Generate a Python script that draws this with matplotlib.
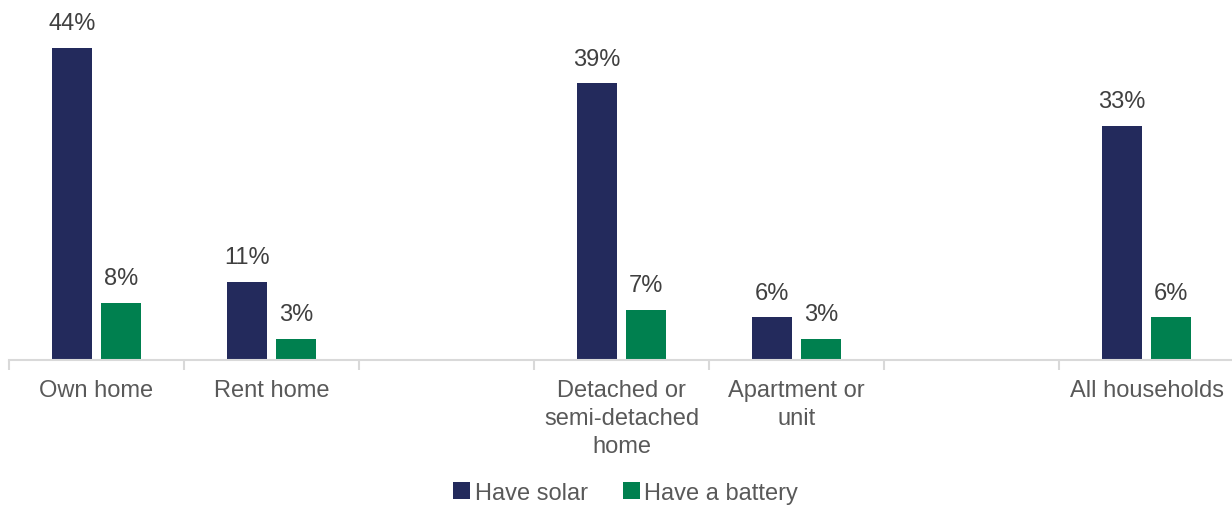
import numpy as np
import matplotlib.pyplot as plt

# categories (blank slots are the gaps between groups)
categories = ['Own home', 'Rent home', '', 'Detached or\nsemi-detached\nhome',
              'Apartment or\nunit', '', 'All households']
solar = [44, 11, None, 39, 6, None, 33]
battery = [8, 3, None, 7, 3, None, 6]

navy = '#232a5c'
green = '#00804f'
grey_txt = '#595959'

plt.rcParams['font.family'] = ['Liberation Sans', 'DejaVu Sans']

fig = plt.figure(figsize=(12.32, 5.10), dpi=100)
ax = fig.add_axes([9 / 1232, 149 / 510, 1225 / 1232, 361 / 510])

x = np.arange(len(categories))
w = 0.228
off = 0.14

for i in range(len(categories)):
    if solar[i] is None:
        continue
    b1 = ax.bar(x[i] - off, solar[i], w, color=navy,
                label='Have solar' if i == 0 else None)
    b2 = ax.bar(x[i] + off, battery[i], w, color=green,
                label='Have a battery' if i == 0 else None)
    ax.bar_label(b1, labels=[f'{solar[i]}%'], padding=10, fontsize=17, color='#404040')
    ax.bar_label(b2, labels=[f'{battery[i]}%'], padding=10, fontsize=17, color='#404040')

ax.set_xlim(-0.5, 6.5)
ax.set_ylim(0, 50.9)

ax.set_xticks(x)
ax.set_xticklabels(categories, fontsize=17, color=grey_txt, linespacing=1.35)
ax.tick_params(axis='x', which='major', length=0, pad=14)
ax.set_xticks(np.arange(-0.5, 7.0, 1.0), minor=True)
ax.tick_params(axis='x', which='minor', length=7, width=1.5, color='#d9d9d9')
ax.set_yticks([])

for s in ['top', 'right', 'left']:
    ax.spines[s].set_visible(False)
ax.spines['bottom'].set_color('#d9d9d9')
ax.spines['bottom'].set_linewidth(1.5)

handles, labels = ax.get_legend_handles_labels()
leg = fig.legend(handles, labels, loc='center', bbox_to_anchor=(0.508, 1 - 494 / 510),
                 ncol=2, frameon=False, fontsize=17, handlelength=0.7, handleheight=0.7,
                 handletextpad=0.2, columnspacing=1.5)
for t in leg.get_texts():
    t.set_color(grey_txt)

fig.savefig('out.png', dpi=100)
